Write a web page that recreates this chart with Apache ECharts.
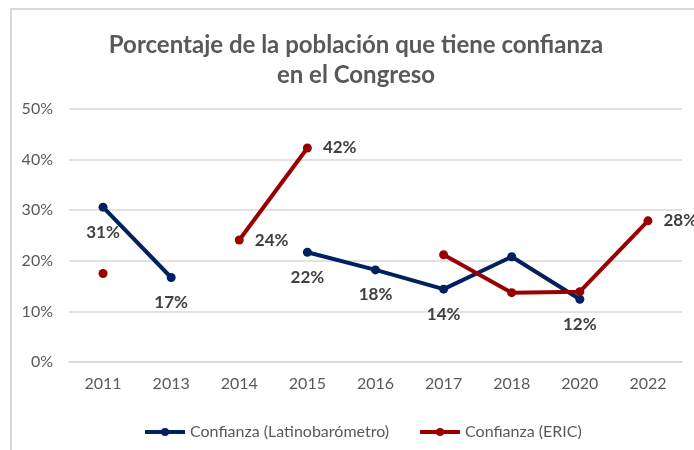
<!DOCTYPE html>
<html>
<head>
<meta charset="utf-8">
<script src="https://cdn.jsdelivr.net/npm/echarts@6/dist/echarts.min.js"></script>
<style>
  html, body { margin: 0; padding: 0; background: #ffffff; }
  #chart { width: 694px; height: 450px; }
</style>
</head>
<body>
<div id="chart"></div>
<script>
"use strict";

// categories (years) and the two series, null = no survey that year
var years = ['2011', '2013', '2014', '2015', '2016', '2017', '2018', '2020', '2022'];
var latino = [30.6, 16.7, null, 21.7, 18.2, 14.4, 20.8, 12.4, null];
var eric = [17.5, null, 24.1, 42.3, null, 21.2, 13.7, 13.9, 27.9];
// which points carry a data label
var latinoLabelYears = ['2011', '2013', '2015', '2016', '2017', '2020'];
var ericLabelYears = ['2014', '2015', '2022'];
var yTicks = [0, 10, 20, 30, 40, 50];

var font = 'Lato, "Open Sans", sans-serif';

function labelFor(shownYears) {
  return function (p) {
    if (shownYears.indexOf(p.name) === -1) return '';
    return Math.round(p.value) + '%';
  };
}

var chart = echarts.init(document.getElementById('chart'));

var option = {
  backgroundColor: '#ffffff',
  animation: false,
  textStyle: { fontFamily: font },
  title: {
    text: 'Porcentaje de la población que tiene confianza\nen el Congreso',
    left: 356,
    top: 30,
    padding: 0,
    textAlign: 'center',
    textStyle: {
      fontFamily: font,
      fontSize: 24,
      fontWeight: 'bold',
      color: '#595959',
      lineHeight: 30
    }
  },
  graphic: [{
    type: 'rect',
    shape: { x: 11, y: 9, width: 800, height: 600 },
    style: { fill: null, stroke: '#d9d9d9', lineWidth: 2 },
    silent: true
  }],
  legend: {
    left: 138,
    top: 419,
    itemWidth: 40,
    itemHeight: 10,
    itemGap: 29,
    lineStyle: { width: 4 },
    textStyle: { fontFamily: font, fontSize: 16, color: '#595959' },
    data: ['Confianza (Latinobarómetro)', 'Confianza (ERIC)']
  },
  grid: {
    left: 69,
    right: 12,
    top: 109,
    bottom: 88,
    containLabel: false
  },
  xAxis: {
    type: 'category',
    data: years,
    boundaryGap: true,
    axisLine: { show: true, lineStyle: { color: '#d9d9d9', width: 1.5 } },
    axisTick: { show: false },
    axisLabel: { fontFamily: font, fontSize: 16, color: '#595959', margin: 14 }
  },
  yAxis: {
    type: 'value',
    min: yTicks[0],
    max: yTicks[yTicks.length - 1],
    interval: 10,
    axisLine: { show: false },
    axisTick: { show: false },
    splitLine: { lineStyle: { color: '#d9d9d9', width: 1.5 } },
    axisLabel: {
      fontFamily: font, fontSize: 16, color: '#595959', margin: 16,
      formatter: '{value}%'
    }
  },
  series: [{
    name: 'Confianza (Latinobarómetro)',
    type: 'line',
    data: latino,
    connectNulls: false,
    symbol: 'circle',
    symbolSize: 9,
    showSymbol: true,
    color: '#002060',
    lineStyle: { width: 4, color: '#002060' },
    itemStyle: { color: '#002060' },
    label: {
      show: true,
      position: 'bottom',
      distance: 12,
      fontFamily: font,
      fontSize: 17,
      fontWeight: 'bold',
      color: '#404040',
      formatter: labelFor(latinoLabelYears)
    },
    z: 2
  }, {
    name: 'Confianza (ERIC)',
    type: 'line',
    data: eric,
    connectNulls: false,
    symbol: 'circle',
    symbolSize: 9,
    showSymbol: true,
    color: '#990000',
    lineStyle: { width: 4, color: '#990000' },
    itemStyle: { color: '#990000' },
    label: {
      show: true,
      position: 'right',
      distance: 11,
      fontFamily: font,
      fontSize: 17,
      fontWeight: 'bold',
      color: '#404040',
      formatter: labelFor(ericLabelYears)
    },
    z: 3
  }]
};

chart.setOption(option);
</script>
</body>
</html>
